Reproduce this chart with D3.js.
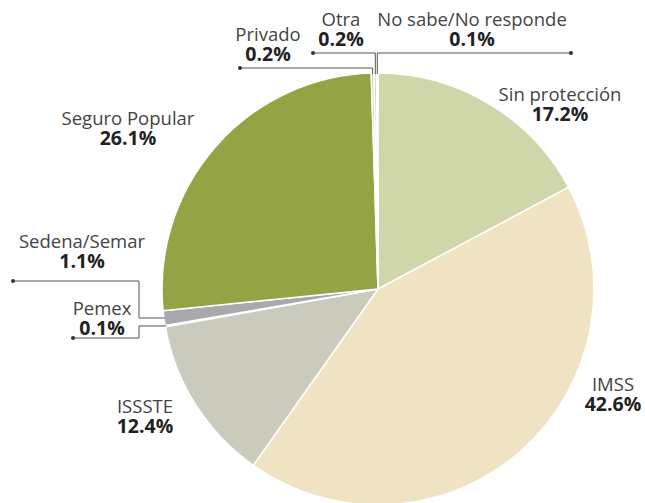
<!DOCTYPE html>
<html><head><meta charset="utf-8">
<script src="https://cdn.jsdelivr.net/npm/d3@7"></script>
<style>body{margin:0;background:#fff}svg{display:block}</style>
</head><body>
<svg id="c" width="645" height="503"></svg>
<script>
const categories = ["Sin protección","IMSS","ISSSTE","Pemex","Sedena/Semar","Seguro Popular","Privado","Otra","No sabe/No responde"];
const values = [17.2,42.6,12.4,0.1,1.1,26.1,0.2,0.2,0.1];
const colors = ["#cfd6a9","#f0e3c4","#cbcbbd","#4d4d50","#a8a9ad","#94a444","#c9c9c0","#d8d8d0","#e6e6de"];
const pctLabels = ["17.2%","42.6%","12.4%","0.1%","1.1%","26.1%","0.2%","0.2%","0.1%"];

const svg = d3.select("#c");
const cx = 378, cy = 289, R = 216;
const g = svg.append("g").attr("transform", `translate(${cx},${cy})`);
const data = categories.map((c,i)=>({c, v: values[i], col: colors[i], p: pctLabels[i]}));
const pie = d3.pie().value(d=>d.v).sort(null).startAngle(0).endAngle(2*Math.PI);
const arcs = pie(data);
const arc = d3.arc().innerRadius(0).outerRadius(R);
g.selectAll("path.s").data(arcs).join("path").attr("class","s")
  .attr("d", arc).attr("fill", d=>d.data.col).attr("stroke","#fff").attr("stroke-width",1.5);

function edge(a, r){ const m=(a.startAngle+a.endAngle)/2; return [cx + r*Math.sin(m), cy - r*Math.cos(m)]; }

const layout = {
  "Sin protección": {x:560, y:101, leader:null},
  "IMSS": {x:613, y:391, leader:null},
  "ISSSTE": {x:145, y:413, leader:null},
  "Pemex": {x:102, y:315, leader:(p)=>[[p[0],p[1]],[139,p[1]],[139,338],[73,338]]},
  "Sedena/Semar": {x:82, y:248, leader:(p)=>[[p[0],p[1]],[139,p[1]],[139,281],[13,281]]},
  "Seguro Popular": {x:128, y:125, leader:null},
  "Privado": {x:268, y:41, leader:(p)=>[[p[0],p[1]],[p[0],68],[240,68]]},
  "Otra": {x:341, y:26, leader:(p)=>[[p[0],p[1]],[p[0],53],[313,53]]},
  "No sabe/No responde": {x:472, y:26, leader:(p)=>[[p[0],p[1]],[p[0],53],[571,53]]}
};

const lg = svg.append("g");
arcs.forEach(a=>{
  const L = layout[a.data.c];
  if(L.leader){
    const pts = L.leader(edge(a, R-1));
    lg.append("path").attr("d", d3.line()(pts)).attr("fill","none").attr("stroke","#555").attr("stroke-width",1);
    const last = pts[pts.length-1];
    lg.append("circle").attr("cx",last[0]).attr("cy",last[1]).attr("r",2).attr("fill","#333");
  }
  svg.append("text").attr("x",L.x).attr("y",L.y).attr("text-anchor","middle")
    .style("font-family","'Open Sans', sans-serif").style("font-size","18.5px")
    .attr("fill","#444").text(a.data.c);
  svg.append("text").attr("x",L.x).attr("y",L.y+20).attr("text-anchor","middle")
    .style("font-family","'Open Sans', sans-serif").style("font-size","19.5px").style("font-weight","bold")
    .attr("fill","#222").text(a.data.p);
});
</script>
</body></html>
